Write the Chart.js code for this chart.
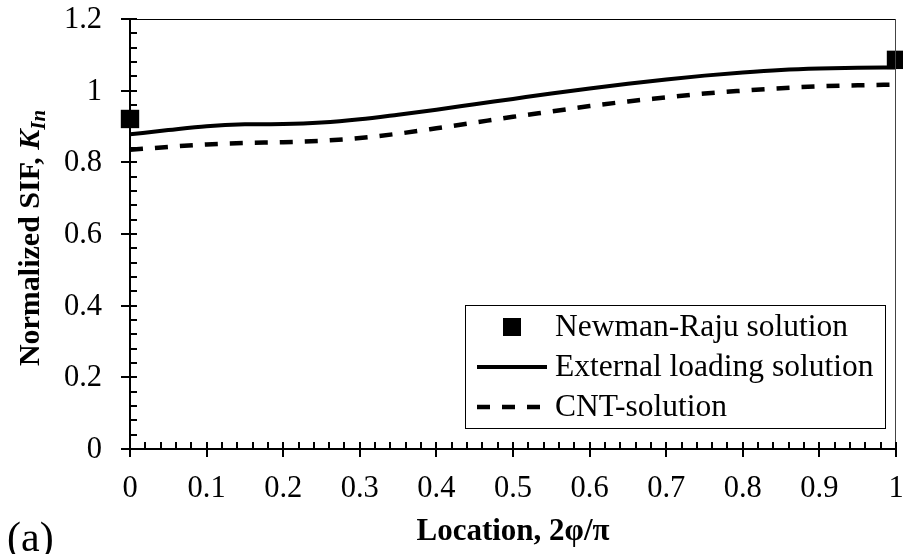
<!DOCTYPE html>
<html>
<head>
<meta charset="utf-8">
<script src="https://cdn.jsdelivr.net/npm/chart.js@4.4.1/dist/chart.umd.min.js"></script>
<style>
  html, body { margin: 0; padding: 0; background: #fff; }
  #wrap { width: 903px; height: 554px; position: relative; }
</style>
</head>
<body>
<div id="wrap"><canvas id="sifChart"></canvas></div>
<script>
// ===== データ =====
const locations = [0, 0.05, 0.1, 0.15, 0.2, 0.25, 0.3, 0.35, 0.4, 0.45, 0.5,
  0.55, 0.6, 0.65, 0.7, 0.75, 0.8, 0.85, 0.9, 0.95, 1];
const externalLoading = [0.878, 0.890, 0.901, 0.906, 0.907, 0.911, 0.920, 0.933, 0.947, 0.962, 0.977,
  0.992, 1.006, 1.019, 1.031, 1.042, 1.051, 1.058, 1.062, 1.064, 1.065];
const cntSolution = [0.835, 0.843, 0.850, 0.854, 0.856, 0.860, 0.868, 0.880, 0.895, 0.911, 0.927,
  0.942, 0.957, 0.970, 0.981, 0.992, 1.000, 1.007, 1.012, 1.015, 1.017];
const newmanX = [0, 1];
const newmanY = [0.921, 1.086];

const xTicks = [0, 0.1, 0.2, 0.3, 0.4, 0.5, 0.6, 0.7, 0.8, 0.9, 1];
const yTicks = [0, 0.2, 0.4, 0.6, 0.8, 1, 1.2];
const xMinorStep = 0.02;
const yMinorStep = 0.04;

const seriesNames = ["Newman-Raju solution", "External loading solution", "CNT-solution"];

const SERIF = "'Liberation Serif', 'Times New Roman', serif";
const toXY = (xs, ys) => xs.map((x, i) => ({ x, y: ys[i] }));
const fmt = v => String(+v.toFixed(1));

// 軸線・目盛り（主目盛り＋補助目盛り）と目盛りラベル
const axisPlugin = {
  id: "axisTicks",
  afterDatasetsDraw(chart) {
    const { ctx, chartArea: a, scales: { x, y } } = chart;
    ctx.save();
    ctx.strokeStyle = "#000";
    ctx.lineWidth = 1;
    ctx.beginPath();
    ctx.moveTo(a.left, a.top + 0.5); ctx.lineTo(a.right, a.top + 0.5);
    ctx.stroke();
    ctx.strokeStyle = "#444";
    ctx.beginPath();
    ctx.moveTo(a.right - 0.5, a.top); ctx.lineTo(a.right - 0.5, a.bottom);
    ctx.stroke();

    ctx.strokeStyle = "#000";
    ctx.lineWidth = 2;
    ctx.beginPath();
    ctx.moveTo(a.left, a.top); ctx.lineTo(a.left, a.bottom);
    ctx.moveTo(a.left - 9, a.bottom); ctx.lineTo(a.right, a.bottom);
    // y 補助目盛り（内向き）
    for (let i = 0; i * yMinorStep <= 1.2 + 1e-9; i++) {
      const py = Math.round(y.getPixelForValue(i * yMinorStep));
      ctx.moveTo(a.left, py); ctx.lineTo(a.left + 7, py);
    }
    yTicks.forEach(v => {
      const py = Math.round(y.getPixelForValue(v));
      ctx.moveTo(a.left - 9, py); ctx.lineTo(a.left + 7, py);
    });
    // x 補助目盛り（上向き）・主目盛り（下向き）
    for (let i = 0; i * xMinorStep <= 1 + 1e-9; i++) {
      const px = Math.round(x.getPixelForValue(i * xMinorStep));
      ctx.moveTo(px, a.bottom); ctx.lineTo(px, a.bottom - 7);
    }
    xTicks.forEach(v => {
      const px = Math.round(x.getPixelForValue(v));
      ctx.moveTo(px, a.bottom); ctx.lineTo(px, a.bottom + 8);
    });
    ctx.stroke();

    // 目盛りラベル
    ctx.fillStyle = "#000";
    ctx.font = "30.5px " + SERIF;
    ctx.textBaseline = "alphabetic";
    ctx.textAlign = "right";
    yTicks.forEach(v => ctx.fillText(fmt(v), 102, y.getPixelForValue(v) + 9));
    ctx.textAlign = "center";
    xTicks.forEach(v => ctx.fillText(fmt(v), x.getPixelForValue(v), 497));

    // 横軸タイトル
    ctx.font = "bold 31px " + SERIF;
    ctx.fillText("Location, 2φ/π", (a.left + a.right) / 2, 540);
    ctx.restore();
  }
};

// 縦軸タイトル（K の下付き文字つき）と (a)
const titlePlugin = {
  id: "titles",
  afterDraw(chart) {
    const { ctx, chartArea: a } = chart;
    ctx.save();
    ctx.fillStyle = "#000";
    const parts = [
      { t: "Normalized SIF, ", f: "bold 30px " + SERIF, dy: 0 },
      { t: "K", f: "italic bold 30px " + SERIF, dy: 0 },
      { t: "In", f: "italic bold 21px " + SERIF, dy: 6 }
    ];
    let w = 0;
    parts.forEach(p => { ctx.font = p.f; p.w = ctx.measureText(p.t).width; w += p.w; });
    ctx.translate(39, (a.top + a.bottom) / 2 + 4);
    ctx.rotate(-Math.PI / 2);
    ctx.textBaseline = "alphabetic";
    let cx = -w / 2;
    parts.forEach(p => {
      ctx.font = p.f;
      ctx.fillText(p.t, cx, p.dy);
      cx += p.w;
    });
    ctx.restore();

    ctx.save();
    ctx.fillStyle = "#000";
    ctx.font = "42px " + SERIF;
    ctx.textBaseline = "alphabetic";
    ctx.fillText("(a)", 7, 551);
    ctx.restore();
  }
};

// 凡例（枠つき、グラフ内右下）
const legendPlugin = {
  id: "boxLegend",
  afterDraw(chart) {
    const { ctx } = chart;
    const box = { x: 465, y: 305, w: 420, h: 123 };
    ctx.save();
    ctx.fillStyle = "#fff";
    ctx.fillRect(box.x, box.y, box.w, box.h);
    ctx.strokeStyle = "#000";
    ctx.lineWidth = 1;
    ctx.strokeRect(box.x + 0.5, box.y + 0.5, box.w, box.h);

    ctx.font = "31.5px " + SERIF;
    ctx.fillStyle = "#000";
    ctx.textBaseline = "middle";
    const rows = [327, 367, 407];
    const textX = 555;
    // 四角マーカー
    ctx.fillRect(512 - 9, rows[0] - 9, 18, 18);
    // 実線
    ctx.lineWidth = 4;
    ctx.beginPath();
    ctx.moveTo(477, rows[1]); ctx.lineTo(547, rows[1]);
    ctx.stroke();
    // 破線
    ctx.lineWidth = 4.5;
    ctx.setLineDash([13, 12]);
    ctx.beginPath();
    ctx.moveTo(477, rows[2]); ctx.lineTo(549, rows[2]);
    ctx.stroke();
    ctx.setLineDash([]);
    seriesNames.forEach((n, i) => ctx.fillText(n, textX, rows[i] + 1));
    ctx.restore();
  }
};

new Chart(document.getElementById("sifChart"), {
  type: "scatter",
  data: {
    datasets: [
      {
        label: seriesNames[1],
        data: toXY(locations, externalLoading),
        showLine: true,
        borderColor: "#000",
        borderWidth: 4,
        pointRadius: 0,
        cubicInterpolationMode: "monotone"
      },
      {
        label: seriesNames[2],
        data: toXY(locations, cntSolution),
        showLine: true,
        borderColor: "#000",
        borderWidth: 4.5,
        borderDash: [13, 12],
        pointRadius: 0,
        cubicInterpolationMode: "monotone"
      },
      {
        label: seriesNames[0],
        data: toXY(newmanX, newmanY),
        showLine: false,
        pointStyle: "rect",
        pointRadius: 13,
        backgroundColor: "#000",
        borderColor: "#000",
        borderWidth: 0,
        clip: false
      }
    ]
  },
  options: {
    responsive: true,
    maintainAspectRatio: false,
    animation: false,
    layout: { autoPadding: false, padding: { left: 0, right: 7, top: 19, bottom: 0 } },
    scales: {
      x: {
        type: "linear",
        min: 0, max: 1,
        afterFit: s => { s.height = 105; },
        grid: { display: false, drawTicks: false },
        border: { display: false },
        ticks: { display: false }
      },
      y: {
        type: "linear",
        min: 0, max: 1.2,
        afterFit: s => { s.width = 130; },
        grid: { display: false, drawTicks: false },
        border: { display: false },
        ticks: { display: false }
      }
    },
    plugins: {
      legend: { display: false },
      tooltip: { enabled: false }
    }
  },
  plugins: [axisPlugin, titlePlugin, legendPlugin]
});
</script>
</body>
</html>
